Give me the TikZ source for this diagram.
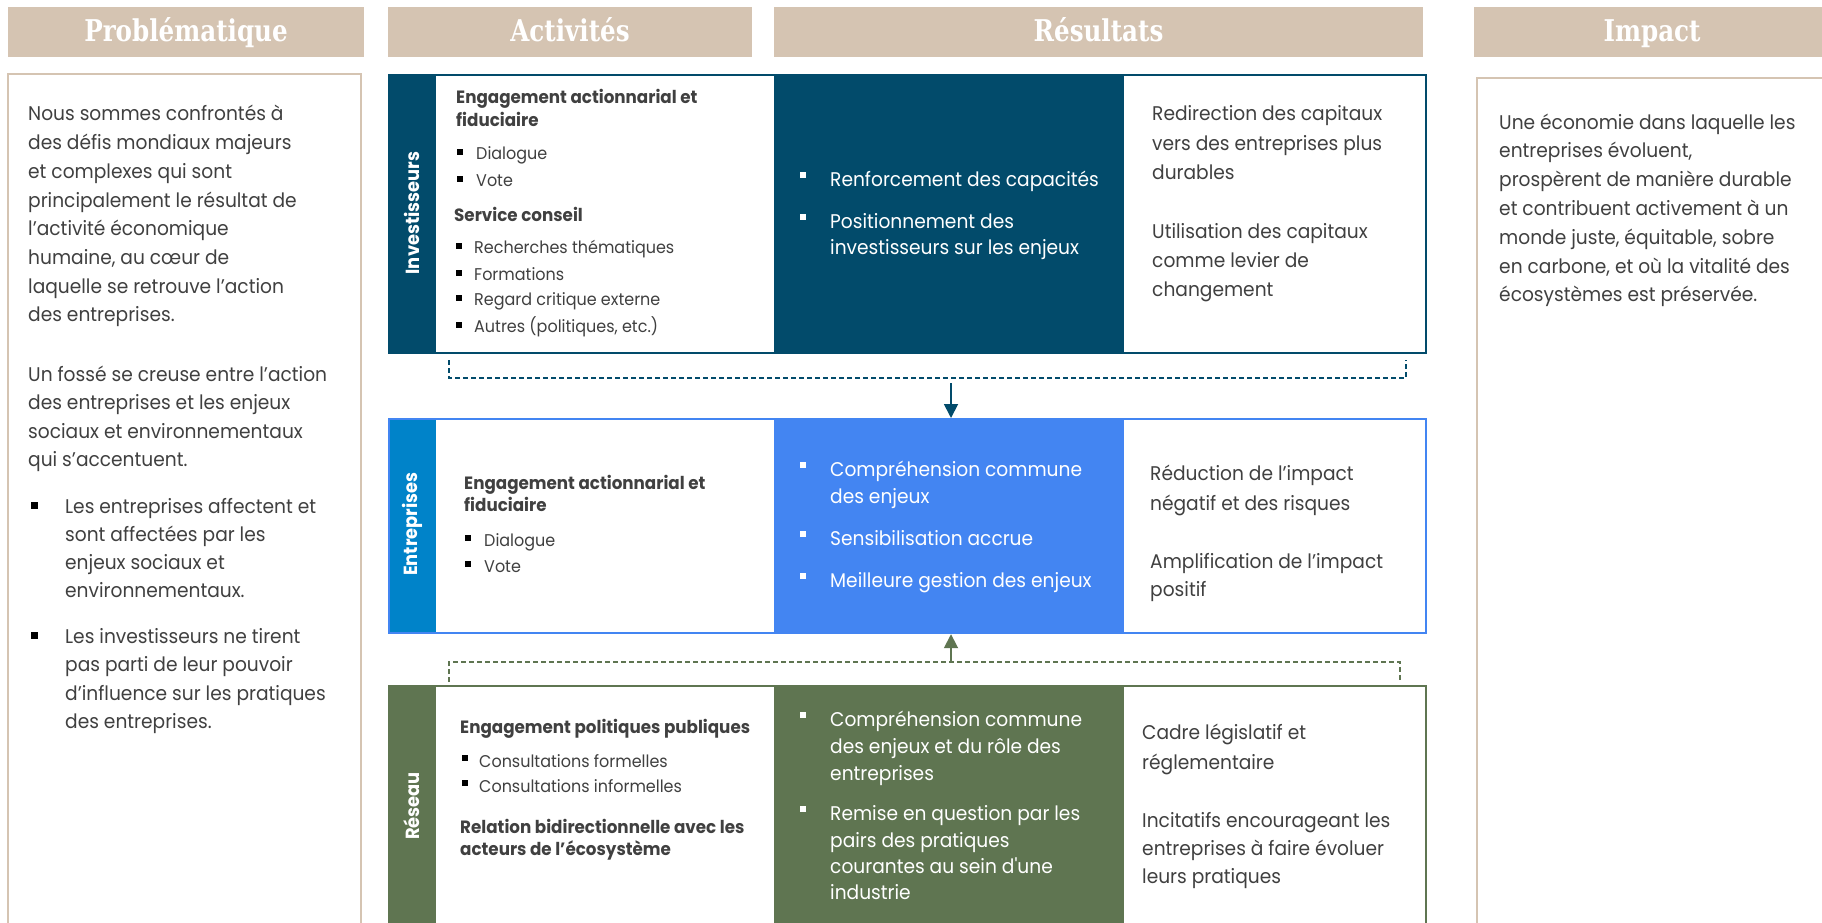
\documentclass[tikz,border=0pt]{standalone}
\usepackage{fontspec}
\usetikzlibrary{arrows.meta}
\newfontfamily\bodyfont{Poppins}[FakeStretch=0.94]
\newfontfamily\headfont{DejaVu Serif}[FakeStretch=0.82]
\definecolor{cTan}{HTML}{D5C4B2}
\definecolor{cInv}{HTML}{024B6B}
\definecolor{cEntS}{HTML}{0083C9}
\definecolor{cEntB}{HTML}{4385F2}
\definecolor{cRes}{HTML}{5F7551}
\definecolor{cTxt}{HTML}{404040}
\begin{document}
\begin{tikzpicture}[x=1pt,y=-1pt,
  hdr/.style={fill=cTan, text=white, font=\headfont\bfseries\fontsize{30}{34}\selectfont, minimum width=356pt, minimum height=50pt, inner sep=0, text height=24pt, text depth=4pt},
  body/.style={anchor=base west, inner sep=0, text=cTxt, font=\bodyfont\fontsize{19.8}{23}\selectfont},
  act/.style={body, font=\bodyfont\fontsize{17}{20}\selectfont},
  actb/.style={body, font=\bodyfont\bfseries\fontsize{17.8}{20}\selectfont},
  res/.style={body, text=white},
  lbl/.style={rotate=90, text=white, font=\bodyfont\bfseries\fontsize{19}{21}\selectfont, inner sep=0},
  rowfr/.style={line width=2.2pt, inner sep=0, anchor=north west, minimum width=1037pt},
  dsh/.style={dash pattern=on 5pt off 3pt, line width=1.5pt},
  arr/.style={line width=1.8pt, -{Triangle[width=14pt,length=14pt]}}
]
\useasboundingbox (0,0) rectangle (1822,923);
\clip (0,0) rectangle (1822,923);
\fill[white] (0,0) rectangle (1822,923);

% headers
\node[hdr] (h1) at (186,32) {Problématique};
\node[hdr, minimum width=364pt] (h2) at (570,32) {Activités};
\node[hdr, minimum width=649pt] (h3) at (1098.5,32) {Résultats};
\node[hdr] (h4) at (1652,32) {Impact};

% side boxes
\draw[cTan, line width=2pt] (8,74) rectangle (361,960);
\draw[cTan, line width=2pt] (1477,78) rectangle (1840,960);

% row fills
\fill[cInv] (388,74) rectangle (436,352);
\fill[cInv] (774,74) rectangle (1124,352);
\fill[cEntS] (388,418) rectangle (436,632);
\fill[cEntB] (774,418) rectangle (1124,632);
\fill[cRes] (388,685) rectangle (436,970);
\fill[cRes] (774,685) rectangle (1124,970);
\node[rowfr, draw=cInv, minimum height=278pt] (inv) at (388,74) {};
\node[rowfr, draw=cEntB, minimum height=214pt] (ent) at (388,418) {};
\node[rowfr, draw=cRes, minimum height=285pt] (res) at (388,685) {};

% row labels
\node[lbl] (l1) at (412,213) {Investisseurs};
\node[lbl] (l2) at (412,524) {Entreprises};
\node[lbl] (l3) at (412,806) {Réseau};

% connectors
\coordinate (tL) at (449,360); \coordinate (tLb) at (449,378);
\coordinate (tRb) at (1406,378); \coordinate (tR) at (1406,360);
\draw[dsh, cInv] (tL) -- (tLb) -- (tRb) -- (tR);
\coordinate (tA) at (951,383);
\draw[arr, cInv] (tA) -- (tA |- ent.north);
\coordinate (gL) at (449,682); \coordinate (gLt) at (449,662);
\coordinate (gRt) at (1400,662); \coordinate (gR) at (1400,682);
\draw[dsh, cRes] (gL) -- (gLt) -- (gRt) -- (gR);
\coordinate (gA) at (951,662);
\draw[arr, cRes] (gA) -- (gA |- ent.south);

% Problematique text
\foreach \s [count=\i from 0] in {{Nous sommes confrontés à},{des défis mondiaux majeurs},{et complexes qui sont},{principalement le résultat de},{l’activité économique},{humaine, au cœur de},{laquelle se retrouve l’action},{des entreprises.}}
  \node[body] (pa\i) at (28,{121+\i*28.7}) {\s};
\foreach \s [count=\i from 0] in {{Un fossé se creuse entre l’action},{des entreprises et les enjeux},{sociaux et environnementaux},{qui s’accentuent.}}
  \node[body] (pb\i) at (28,{381+\i*28.6}) {\s};
\foreach \s [count=\i from 0] in {{Les entreprises affectent et},{sont affectées par les},{enjeux sociaux et},{environnementaux.}}
  \node[body] (pc\i) at (65,{513+\i*28.3}) {\s};
\foreach \s [count=\i from 0] in {{Les investisseurs ne tirent},{pas parti de leur pouvoir},{d’influence sur les pratiques},{des entreprises.}}
  \node[body] (pd\i) at (65,{643+\i*28.5}) {\s};
\fill[black] (31,502) rectangle ++(7,7);
\fill[black] (31,632) rectangle ++(7,7);

% Impact text
\foreach \s [count=\i from 0] in {{Une économie dans laquelle les},{entreprises évoluent,},{prospèrent de manière durable},{et contribuent activement à un},{monde juste, équitable, sobre},{en carbone, et où la vitalité des},{écosystèmes est préservée.}}
  \node[body] (im\i) at (1499,{129+\i*28.8}) {\s};

% Investisseurs activities
\node[actb] (ia1) at (456,104) {Engagement actionnarial et};
\node[actb] (ia2) at (456,127) {fiduciaire};
\node[act] (ia3) at (476,159) {Dialogue};
\node[act] (ia4) at (476,186) {Vote};
\node[actb] (ia5) at (454,221) {Service conseil};
\node[act] (ia6) at (474,253) {Recherches thématiques};
\node[act] (ia7) at (474,280) {Formations};
\node[act] (ia8) at (474,305) {Regard critique externe};
\node[act] (ia9) at (474,332) {Autres (politiques, etc.)};
\foreach \x/\y in {457/149,457/176,456/243,456/270,456/295,456/322}
  \fill[black] (\x,\y) rectangle ++(6,6);

% Entreprises activities
\node[actb] (ea1) at (464,489) {Engagement actionnarial et};
\node[actb] (ea2) at (464,511) {fiduciaire};
\node[act] (ea3) at (484,546) {Dialogue};
\node[act] (ea4) at (484,572) {Vote};
\foreach \x/\y in {465/535,465/561}
  \fill[black] (\x,\y) rectangle ++(6,6);

% Reseau activities
\node[actb] (ra1) at (460,733) {Engagement politiques publiques};
\node[act] (ra2) at (479,767) {Consultations formelles};
\node[act] (ra3) at (479,792) {Consultations informelles};
\node[actb] (ra4) at (460,833) {Relation bidirectionnelle avec les};
\node[actb] (ra5) at (460,855) {acteurs de l’écosystème};
\foreach \x/\y in {462/755,462/780}
  \fill[black] (\x,\y) rectangle ++(6,6);

% Investisseurs results
\node[res] (ir1) at (830,186) {Renforcement des capacités};
\node[res] (ir2) at (830,228) {Positionnement des};
\node[res] (ir3) at (830,254) {investisseurs sur les enjeux};
\node[body] (iq1) at (1152,121) {Redirection des capitaux};
\node[body] (iq2) at (1152,150) {vers des entreprises plus};
\node[body] (iq3) at (1152,179) {durables};
\node[body] (iq4) at (1152,238) {Utilisation des capitaux};
\node[body] (iq5) at (1152,267) {comme levier de};
\node[body] (iq6) at (1152,296) {changement};
\foreach \y in {172,214}
  \fill[white] (800,\y) rectangle ++(6,6);

% Entreprises results
\node[res] (er1) at (830,476) {Compréhension commune};
\node[res] (er2) at (830,503) {des enjeux};
\node[res] (er3) at (830,545) {Sensibilisation accrue};
\node[res] (er4) at (830,587) {Meilleure gestion des enjeux};
\node[body] (eq1) at (1150,480) {Réduction de l’impact};
\node[body] (eq2) at (1150,510) {négatif et des risques};
\node[body] (eq3) at (1150,568) {Amplification de l’impact};
\node[body] (eq4) at (1150,596) {positif};
\foreach \y in {462,531,573}
  \fill[white] (800,\y) rectangle ++(6,6);

% Reseau results
\node[res] (rr1) at (830,726) {Compréhension commune};
\node[res] (rr2) at (830,753) {des enjeux et du rôle des};
\node[res] (rr3) at (830,780) {entreprises};
\node[res] (rr4) at (830,820) {Remise en question par les};
\node[res] (rr5) at (830,847) {pairs des pratiques};
\node[res] (rr6) at (830,873) {courantes au sein d'une};
\node[res] (rr7) at (830,899) {industrie};
\node[body] (rq1) at (1142,739) {Cadre législatif et};
\node[body] (rq2) at (1142,769) {réglementaire};
\node[body] (rq3) at (1142,827) {Incitatifs encourageant les};
\node[body] (rq4) at (1142,855) {entreprises à faire évoluer};
\node[body] (rq5) at (1142,883) {leurs pratiques};
\foreach \y in {712,806}
  \fill[white] (800,\y) rectangle ++(6,6);
\end{tikzpicture}
\end{document}
